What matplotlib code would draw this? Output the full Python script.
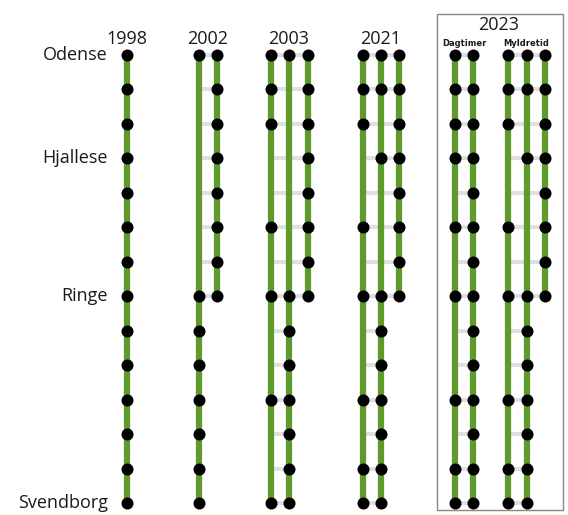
import matplotlib
matplotlib.use("Agg")
import matplotlib.pyplot as plt
from matplotlib.patches import Rectangle

# stations from Odense (0) to Svendborg (13); only four are named on the chart
station_labels = ["Odense", "", "", "Hjallese", "", "", "", "Ringe",
                  "", "", "", "", "", "Svendborg"]
ALL = list(range(14))
TO_RINGE = list(range(8))

# stops per train line, grouped by timetable
stops_1998 = [ALL]
stops_2002 = [[0, 7, 8, 9, 10, 11, 12, 13], TO_RINGE]
stops_2003 = [[0, 1, 2, 5, 7, 10, 13], [0, 7, 8, 9, 10, 11, 12, 13], TO_RINGE]
stops_2021 = [[0, 1, 2, 5, 7, 10, 12, 13], [0, 1, 3, 7, 8, 9, 10, 11, 12, 13], TO_RINGE]
stops_2023_dag = [[0, 1, 2, 3, 5, 7, 10, 12, 13], ALL]
stops_2023_myl = [[0, 1, 2, 5, 7, 10, 12, 13], [0, 1, 3, 7, 8, 9, 10, 11, 12, 13], TO_RINGE]

# layout (pixel x of each line)
groups = [
    (stops_1998, [127]),
    (stops_2002, [199, 217]),
    (stops_2003, [271, 289, 308]),
    (stops_2021, [363, 381, 399]),
    (stops_2023_dag, [455, 473]),
    (stops_2023_myl, [508, 527, 545]),
]
year_titles = [("1998", 127), ("2002", 208), ("2003", 289), ("2021", 381)]

GREEN = "#5e9a2c"
GREY = "#e0e0e0"
TEXT = "#1a1a1a"
ROW0, ROWSTEP = 55, 34.46


def py(p):
    """pixel y -> station index units"""
    return (p - ROW0) / ROWSTEP


fig = plt.figure(figsize=(5.68, 5.15), dpi=100)
ax = fig.add_axes([0, 0, 1, 1])
ax.set_xlim(0, 568)
ax.set_ylim(py(515), py(0))
ax.axis("off")

for stops, xs in groups:
    # grey connectors across the lines present at each station
    for row in ALL:
        present = [x for s, x in zip(stops, xs) if min(s) <= row <= max(s)]
        if len(present) > 1:
            ax.plot([min(present), max(present)], [row, row], color=GREY,
                    lw=3, solid_capstyle="butt", zorder=1)
    for s, x in zip(stops, xs):
        ax.plot([x, x], [min(s), max(s)], color=GREEN, lw=4.5,
                solid_capstyle="butt", zorder=2)
        ax.scatter([x] * len(s), s, s=75, color="black", zorder=3, linewidths=0)

for i, name in enumerate(station_labels):
    if name:
        ax.text(108, i, name, ha="right", va="center", fontsize=13,
                family="Open Sans", color=TEXT)

for label, x in year_titles:
    ax.text(x, py(39), label, ha="center", va="center", fontsize=13,
            family="Open Sans", color=TEXT)

ax.add_patch(Rectangle((437, py(14)), 126, py(510) - py(14), fill=False,
                       edgecolor="#888888", lw=1, zorder=0))
ax.text(499, py(25), "2023", ha="center", va="center", fontsize=13,
        family="Open Sans", color=TEXT)
ax.text(464, py(43), "Dagtimer", ha="center", va="center", fontsize=6,
        fontweight="bold", color=TEXT)
ax.text(526, py(43), "Myldretid", ha="center", va="center", fontsize=6,
        fontweight="bold", color=TEXT)

fig.savefig("out.png", dpi=100)
